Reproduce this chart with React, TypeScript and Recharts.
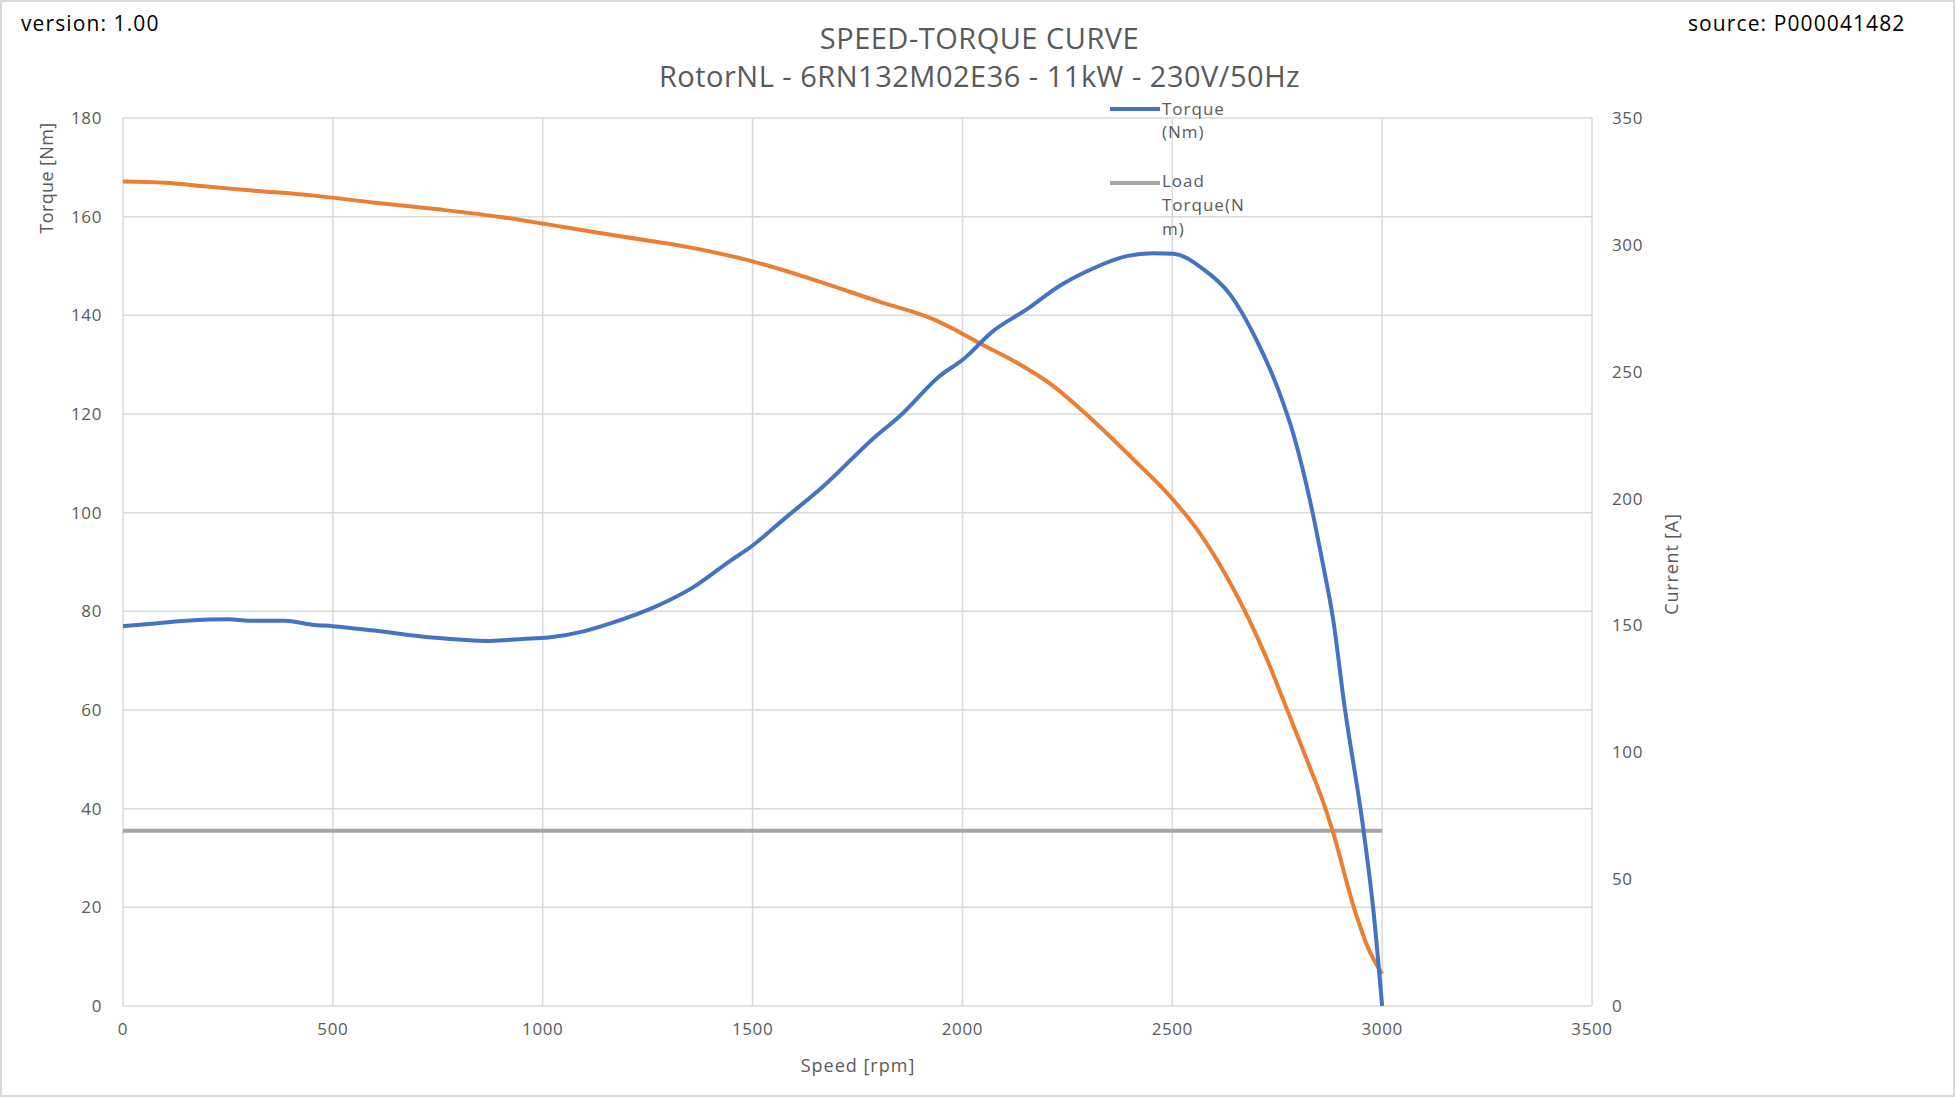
import React from "react";
import {
  LineChart,
  Line,
  XAxis,
  YAxis,
  CartesianGrid,
} from "recharts";

// torque curve (left axis, Nm)
const torqueSpeed = [
  0, 55, 151, 252, 300, 386, 450, 500, 599, 737, 876, 950, 1014, 1100, 1163, 1270, 1355, 1451,
  1490, 1579, 1668, 1787, 1851, 1946, 2002, 2073, 2153, 2232, 2311, 2391, 2454, 2502, 2573,
  2637, 2700, 2750, 2790, 2828, 2859, 2883, 2910, 2955, 2979, 3000,
];
const torqueNm = [
  77.0, 77.4, 78.1, 78.4, 78.1, 78.1, 77.3, 77.0, 76.1, 74.7, 74.0, 74.4, 74.7, 76.0, 77.6, 81.0,
  84.7, 90.5, 92.7, 99.0, 105.3, 115.0, 119.6, 127.7, 131.1, 136.8, 141.2, 146.0, 149.5, 152.0,
  152.6, 152.5, 149.4, 144.3, 135.1, 125.5, 115.5, 102.5, 89.5, 78.5, 61.0, 36.0, 19.5, 0,
];

// current curve (right axis, A)
const currentSpeed = [
  0, 100, 200, 300, 450, 600, 750, 900, 1050, 1200, 1350, 1500, 1650, 1800, 1930, 2002, 2041,
  2129, 2216, 2295, 2407, 2494, 2565, 2629, 2681, 2724, 2764, 2816, 2866, 2882, 2933, 2965, 3000,
];
const currentA = [
  325, 324.5, 323, 321.5, 319.5, 316.6, 314, 311, 307, 303, 299, 293.5, 286, 277.7, 270.7, 264.8,
  261.2, 253.6, 244.4, 233.2, 215.5, 201, 186.5, 169.4, 153, 137.3, 120.8, 99, 77.3, 69, 38.7,
  23.5, 12.6,
];

// load torque (left axis, Nm)
const loadSpeed = [0, 3000];
const loadNm = [35.5, 35.5];

const speedTicks = [0, 500, 1000, 1500, 2000, 2500, 3000, 3500];
const torqueTicks = [0, 20, 40, 60, 80, 100, 120, 140, 160, 180];
const currentTicks = [0, 50, 100, 150, 200, 250, 300, 350];

const zip = (xs: number[], ys: number[]) => xs.map((x, i) => ({ x, y: ys[i] }));

const torqueData = zip(torqueSpeed, torqueNm);
const currentData = zip(currentSpeed, currentA);
const loadData = zip(loadSpeed, loadNm);

const FONT = "'Open Sans', sans-serif";
const GREY = "#595959";
const tick = { fontSize: 17, fill: GREY, fontFamily: FONT, letterSpacing: 0.6 };

const vTitle: React.CSSProperties = {
  position: "absolute",
  transform: "translate(-50%, -50%) rotate(-90deg)",
  whiteSpace: "nowrap",
  fontSize: 18,
  color: GREY,
};

export default function App() {
  return (
    <div
      style={{
        position: "absolute",
        left: 0,
        top: 0,
        width: 1955,
        height: 1097,
        background: "#fff",
        border: "2px solid #d9d9d9",
        boxSizing: "border-box",
        fontFamily: FONT,
        overflow: "hidden",
      }}
    >
      <div style={{ position: "absolute", left: -2, top: -2 }}>
        <LineChart width={1955} height={1097} margin={{ top: 118, right: 303, left: 63, bottom: 51 }}>
          <CartesianGrid stroke="#d9d9d9" strokeWidth={1.5} yAxisId="t" />
          <XAxis
            dataKey="x"
            type="number"
            domain={[0, 3500]}
            ticks={speedTicks}
            allowDataOverflow
            axisLine={false}
            tickLine={false}
            tickSize={0}
            tickMargin={17}
            height={40}
            tick={tick}
          />
          <YAxis
            yAxisId="t"
            domain={[0, 180]}
            ticks={torqueTicks}
            axisLine={false}
            tickLine={false}
            tickSize={0}
            tickMargin={21}
            width={60}
            tick={tick}
          />
          <YAxis
            yAxisId="c"
            orientation="right"
            domain={[0, 350]}
            ticks={currentTicks}
            axisLine={false}
            tickLine={false}
            tickSize={0}
            tickMargin={20}
            width={60}
            tick={{ ...tick, textAnchor: "start" }}
          />
          <Line
            yAxisId="t"
            data={loadData}
            dataKey="y"
            stroke="#a5a5a5"
            strokeWidth={4}
            dot={false}
            isAnimationActive={false}
          />
          <Line
            yAxisId="c"
            data={currentData}
            dataKey="y"
            type="monotone"
            stroke="#ed7d31"
            strokeWidth={4}
            dot={false}
            isAnimationActive={false}
          />
          <Line
            yAxisId="t"
            data={torqueData}
            dataKey="y"
            type="monotone"
            stroke="#4472c4"
            strokeWidth={4}
            dot={false}
            isAnimationActive={false}
          />
        </LineChart>
      </div>

      <div style={{ position: "absolute", left: 19, top: 7, fontSize: 21, letterSpacing: 1.1, color: "#000" }}>
        version: 1.00
      </div>
      <div style={{ position: "absolute", left: 1686, top: 7, fontSize: 21, letterSpacing: 1.1, color: "#000" }}>
        source: P000041482
      </div>

      <div
        style={{
          position: "absolute",
          left: 0,
          width: 1955,
          top: 17,
          textAlign: "center",
          fontSize: 29,
          lineHeight: "38px",
          letterSpacing: 0.5,
          color: GREY,
        }}
      >
        SPEED-TORQUE CURVE
        <br />
        RotorNL - 6RN132M02E36 - 11kW - 230V/50Hz
      </div>

      {/* legend */}
      <div style={{ position: "absolute", left: 1108, top: 105, width: 50, height: 4, background: "#4472c4" }} />
      <div style={{ position: "absolute", left: 1108, top: 179, width: 50, height: 4, background: "#a5a5a5" }} />
      <div
        style={{ position: "absolute", left: 1160, top: 95, fontSize: 17, lineHeight: "23px", letterSpacing: 1, color: GREY }}
      >
        Torque
        <br />
        (Nm)
      </div>
      <div
        style={{ position: "absolute", left: 1160, top: 167, fontSize: 17, lineHeight: "24px", letterSpacing: 1, color: GREY }}
      >
        Load
        <br />
        Torque(N
        <br />
        m)
      </div>

      {/* axis titles */}
      <div style={{ ...vTitle, left: 44, top: 176, letterSpacing: 0.4 }}>Torque [Nm]</div>
      <div style={{ ...vTitle, left: 1669, top: 562, letterSpacing: 0.8 }}>Current [A]</div>
      <div
        style={{
          position: "absolute",
          left: 856,
          top: 1063,
          transform: "translate(-50%, -50%)",
          whiteSpace: "nowrap",
          fontSize: 18,
          letterSpacing: 1,
          color: GREY,
        }}
      >
        Speed [rpm]
      </div>
    </div>
  );
}
